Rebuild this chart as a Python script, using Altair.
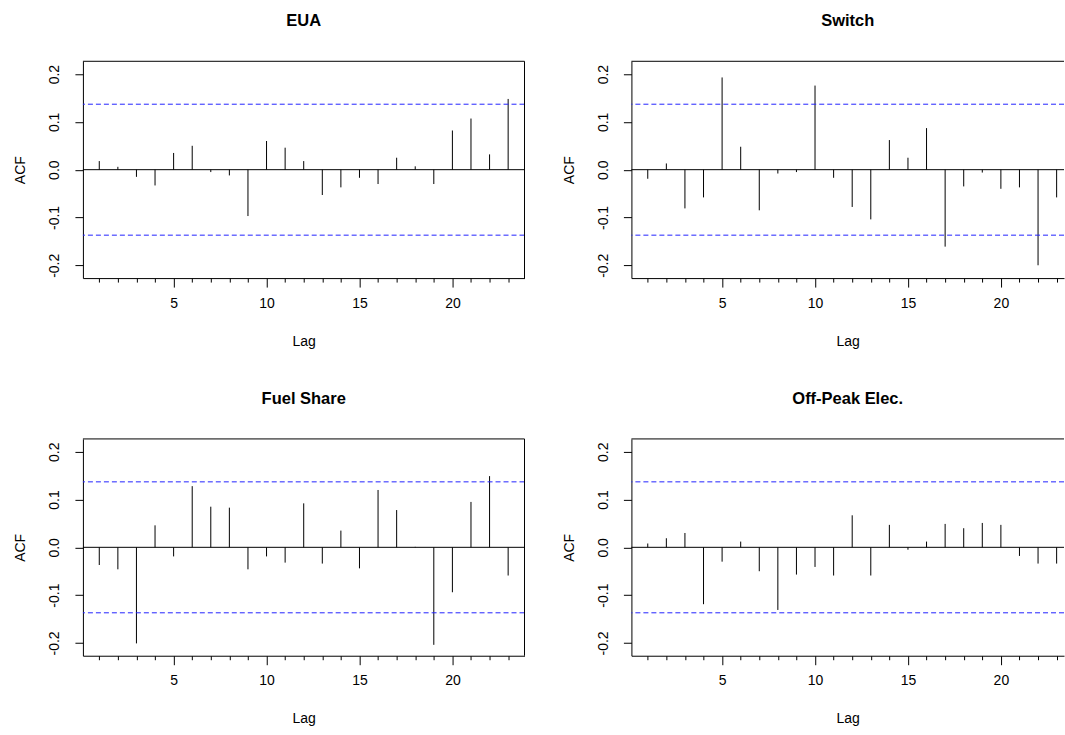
import altair as alt
import pandas as pd

lags = list(range(1, 24))
eua = [0.018, 0.006, -0.015, -0.033, 0.035, 0.050, -0.005, -0.012, -0.097, 0.060,
       0.046, 0.018, -0.053, -0.037, -0.017, -0.030, 0.025, 0.007, -0.030, 0.082,
       0.107, 0.032, 0.148]
switch = [-0.019, 0.013, -0.081, -0.058, 0.193, 0.048, -0.085, -0.008, -0.005, 0.176,
          -0.017, -0.078, -0.104, 0.062, 0.025, 0.087, -0.161, -0.035, -0.006, -0.040,
          -0.037, -0.200, -0.058]
fuel = [-0.037, -0.046, -0.201, 0.046, -0.019, 0.128, 0.085, 0.083, -0.046, -0.019,
        -0.032, 0.092, -0.034, 0.035, -0.044, 0.120, 0.078, 0.001, -0.204, -0.094,
        0.095, 0.149, -0.059]
offpeak = [0.008, 0.019, 0.030, -0.119, -0.030, 0.012, -0.050, -0.131, -0.057, -0.041,
           -0.059, 0.067, -0.059, 0.047, -0.005, 0.012, 0.049, 0.040, 0.051, 0.047,
           -0.018, -0.034, -0.034]
titles = ["EUA", "Switch", "Fuel Share", "Off-Peak Elec."]
clim = 0.137
y_ticks = [-0.2, -0.1, 0.0, 0.1, 0.2]
ylim = [-0.2268, 0.2268]
xlim_left = [0.12, 23.88]

FONT = "Liberation Sans"
W_LEFT = 442
W_RIGHT = 433
H = 217
lag_per_px = (xlim_left[1] - xlim_left[0]) / W_LEFT


def panel(vals, title, width, right_border):
    xmax = xlim_left[0] + width * lag_per_px
    df = pd.DataFrame({"lag": lags, "y": [0.0] * len(lags), "acf": vals})
    y_enc = alt.Y(
        "y:Q",
        scale=alt.Scale(domain=ylim, nice=False, zero=False),
        axis=alt.Axis(
            values=y_ticks,
            labelAngle=-90,
            labelExpr="datum.value === 0 ? '0.0' : '' + datum.value",
            tickSize=8,
            labelPadding=13,
            titlePadding=20,
            title="ACF",
        ),
    )
    x_enc = alt.X(
        "lag:Q",
        scale=alt.Scale(domain=[xlim_left[0], xmax], nice=False, zero=False),
        axis=alt.Axis(
            values=lags,
            labelExpr="datum.value % 5 === 0 ? datum.label : ''",
            tickSize={"condition": {"test": "datum.value % 5 === 0", "value": 9}, "value": 4},
            labelPadding=9,
            titlePadding=24,
            title="Lag",
        ),
    )
    bars = alt.Chart(df).mark_rule(color="black", strokeWidth=1, clip=True).encode(
        x=x_enc, y=y_enc, y2="acf:Q"
    )
    zero = alt.Chart(pd.DataFrame({"y": [0.0]})).mark_rule(color="black", strokeWidth=1).encode(y=y_enc)
    ci = alt.Chart(pd.DataFrame({"y": [clim, -clim]})).mark_rule(
        color="#2222ff", strokeWidth=1, strokeDash=[5, 3]
    ).encode(y=y_enc)
    top = alt.Chart(pd.DataFrame({"y": [0.0]})).mark_rule(color="black", strokeWidth=1).encode(
        y=alt.value(0)
    )
    layers = [bars, zero, ci, top]
    if right_border:
        rb = alt.Chart(pd.DataFrame({"y": [0.0]})).mark_rule(color="black", strokeWidth=1).encode(
            x=alt.value(width), y=alt.value(0), y2=alt.value(H)
        )
        layers.append(rb)
    return alt.layer(*layers).properties(
        width=width,
        height=H,
        title=alt.TitleParams(
            title, font=FONT, fontSize=16.5, fontWeight="bold", color="black",
            anchor="middle", frame="group", baseline="bottom", offset=15,
        ),
    )


p1 = panel(eua, titles[0], W_LEFT, True)
p2 = panel(switch, titles[1], W_RIGHT, False)
p3 = panel(fuel, titles[2], W_LEFT, True)
p4 = panel(offpeak, titles[3], W_RIGHT, False)

chart = alt.vconcat(
    alt.hconcat(p1, p2, spacing=36),
    alt.hconcat(p3, p4, spacing=36),
    spacing=41,
).properties(
    padding={"left": 13, "top": 12, "right": 0, "bottom": 0},
    background="white",
).configure_view(
    stroke="transparent"
).configure_axis(
    labelFont=FONT, titleFont=FONT, labelFontSize=14, titleFontSize=14,
    titleFontWeight="normal", labelColor="black", titleColor="black",
    tickColor="black", domainColor="black", grid=False,
)

chart.save("out.html", embed_options={"renderer": "svg", "actions": False})
